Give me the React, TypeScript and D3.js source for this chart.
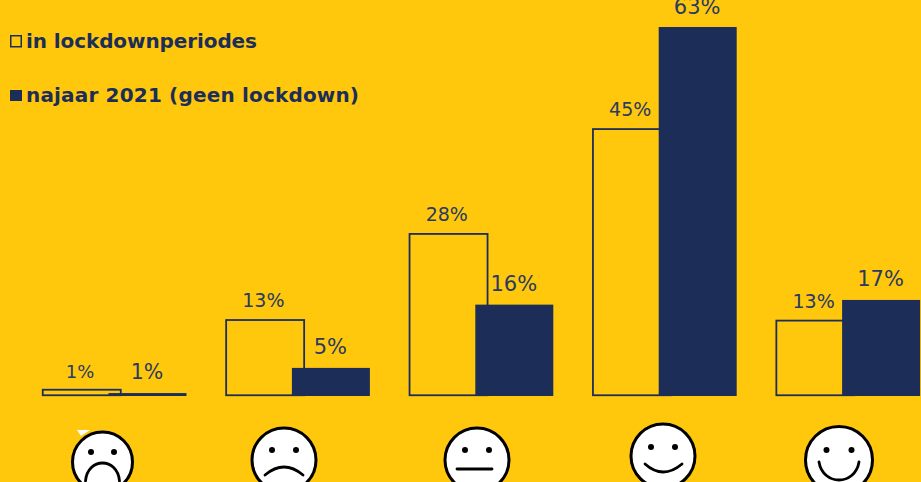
import React from "react";
import * as d3 from "d3";

const categories = ["heel slecht", "slecht", "neutraal", "goed", "heel goed"];
const lockdownValues = [1.2, 13.1, 27.8, 45.7, 13.0];
const autumnValues = [0.5, 4.8, 15.6, 63.0, 16.4];
const lockdownLabels = ["1%", "13%", "28%", "45%", "13%"];
const autumnLabels = ["1%", "5%", "16%", "63%", "17%"];
const legendLabels = ["in lockdownperiodes", "najaar 2021 (geen lockdown)"];

const BG = "#FFC80D";
const NAVY = "#1C2E57";
const W = 921, H = 482;
const BASE = 396, TOP = 27;
const BAR = 78;

const x = d3.scaleBand<string>().domain(categories).range([42, 42 + 183.4 * 5]).paddingInner(0).paddingOuter(0).align(0);
const y = d3.scaleLinear().domain([0, 63]).range([BASE, TOP]);

const faces = [
  { cx: 102.5, cy: 462, r: 30, eyeDx: 11.5, eyeDy: -10, kind: "frown2" },
  { cx: 284, cy: 460, r: 32, eyeDx: 12, eyeDy: -10, kind: "frown" },
  { cx: 477, cy: 460, r: 32, eyeDx: 12, eyeDy: -10, kind: "flat" },
  { cx: 663, cy: 456, r: 32, eyeDx: 12, eyeDy: -9, kind: "smile" },
  { cx: 839, cy: 460, r: 33.5, eyeDx: 12.5, eyeDy: -10, kind: "grin" },
];

function mouth(kind: string, cx: number, cy: number) {
  const p = d3.path();
  if (kind === "frown2") { p.moveTo(cx - 17, cy + 19); p.bezierCurveTo(cx - 15, cy - 5, cx + 15, cy - 5, cx + 17, cy + 19); }
  if (kind === "frown") { p.moveTo(cx - 19, cy + 15); p.quadraticCurveTo(cx, cy - 1, cx + 19, cy + 15); }
  if (kind === "flat") { p.moveTo(cx - 20, cy + 9); p.lineTo(cx + 15, cy + 9); }
  if (kind === "smile") { p.moveTo(cx - 18, cy + 8); p.quadraticCurveTo(cx, cy + 24, cx + 19, cy + 8); }
  if (kind === "grin") { p.moveTo(cx - 20, cy + 2); p.bezierCurveTo(cx - 16, cy + 26, cx + 16, cy + 26, cx + 20, cy + 2); }
  return p.toString();
}

export default function App() {
  const labelStyle = { fontFamily: "'DejaVu Sans', Verdana, sans-serif", fill: "#2A3A60", textAnchor: "middle" as const };
  return (
    <svg width={W} height={H} viewBox={`0 0 ${W} ${H}`} style={{ position: "fixed", left: 0, top: 0, display: "block", background: BG }}>
      <rect x={0} y={0} width={W} height={H} fill={BG} />
      {categories.map((c, i) => {
        const x0 = x(c)!;
        return (
          <rect key={c} x={x0 + 0.75} y={y(lockdownValues[i]) + 0.75} width={BAR} height={BASE - y(lockdownValues[i]) - 1.5} fill="none" stroke={NAVY} strokeWidth={1.8} />
        );
      })}
      {categories.map((c, i) => {
        const x0 = x(c)! + 66.5;
        return (
          <rect key={c} x={x0} y={y(autumnValues[i])} width={BAR} height={BASE - y(autumnValues[i])} fill={NAVY} />
        );
      })}
      {categories.map((c, i) => {
        const x0 = x(c)!;
        return (
          <g key={c}>
            <text x={x0 + 38} y={y(lockdownValues[i]) - (i === 0 ? 11 : 12)} fontSize={i === 0 ? 18 : 19} {...labelStyle}>{lockdownLabels[i]}</text>
            <text x={x0 + 105} y={y(autumnValues[i]) - (i === 0 ? 14 : 13.5)} fontSize={i === 0 ? 20.5 : 21} {...labelStyle}>{autumnLabels[i]}</text>
          </g>
        );
      })}

      <g fontFamily="'DejaVu Sans', Verdana, sans-serif" fontWeight="bold" fontSize={20} fill={NAVY}>
        <rect x={10.75} y={35.75} width={10.5} height={11} fill="none" stroke={NAVY} strokeWidth={1.5} />
        <text x={26} y={47.5} textLength={231} lengthAdjust="spacing">{legendLabels[0]}</text>
        <rect x={10} y={90} width={12} height={11} fill={NAVY} />
        <text x={26} y={101.5} textLength={333} lengthAdjust="spacing">{legendLabels[1]}</text>
      </g>

      <path d="M77 430 L90 430 L81 436 Z" fill="#fff" />
      {faces.map((f, i) => (
        <g key={i}>
          <circle cx={f.cx} cy={f.cy} r={f.r} fill="#fff" stroke="#000" strokeWidth={3} />
          <circle cx={f.cx - f.eyeDx} cy={f.cy + f.eyeDy} r={3} fill="#000" />
          <circle cx={f.cx + f.eyeDx} cy={f.cy + f.eyeDy} r={3} fill="#000" />
          <path d={mouth(f.kind, f.cx, f.cy)} fill="none" stroke="#000" strokeWidth={2.8} strokeLinecap="round" />
        </g>
      ))}
    </svg>
  );
}
